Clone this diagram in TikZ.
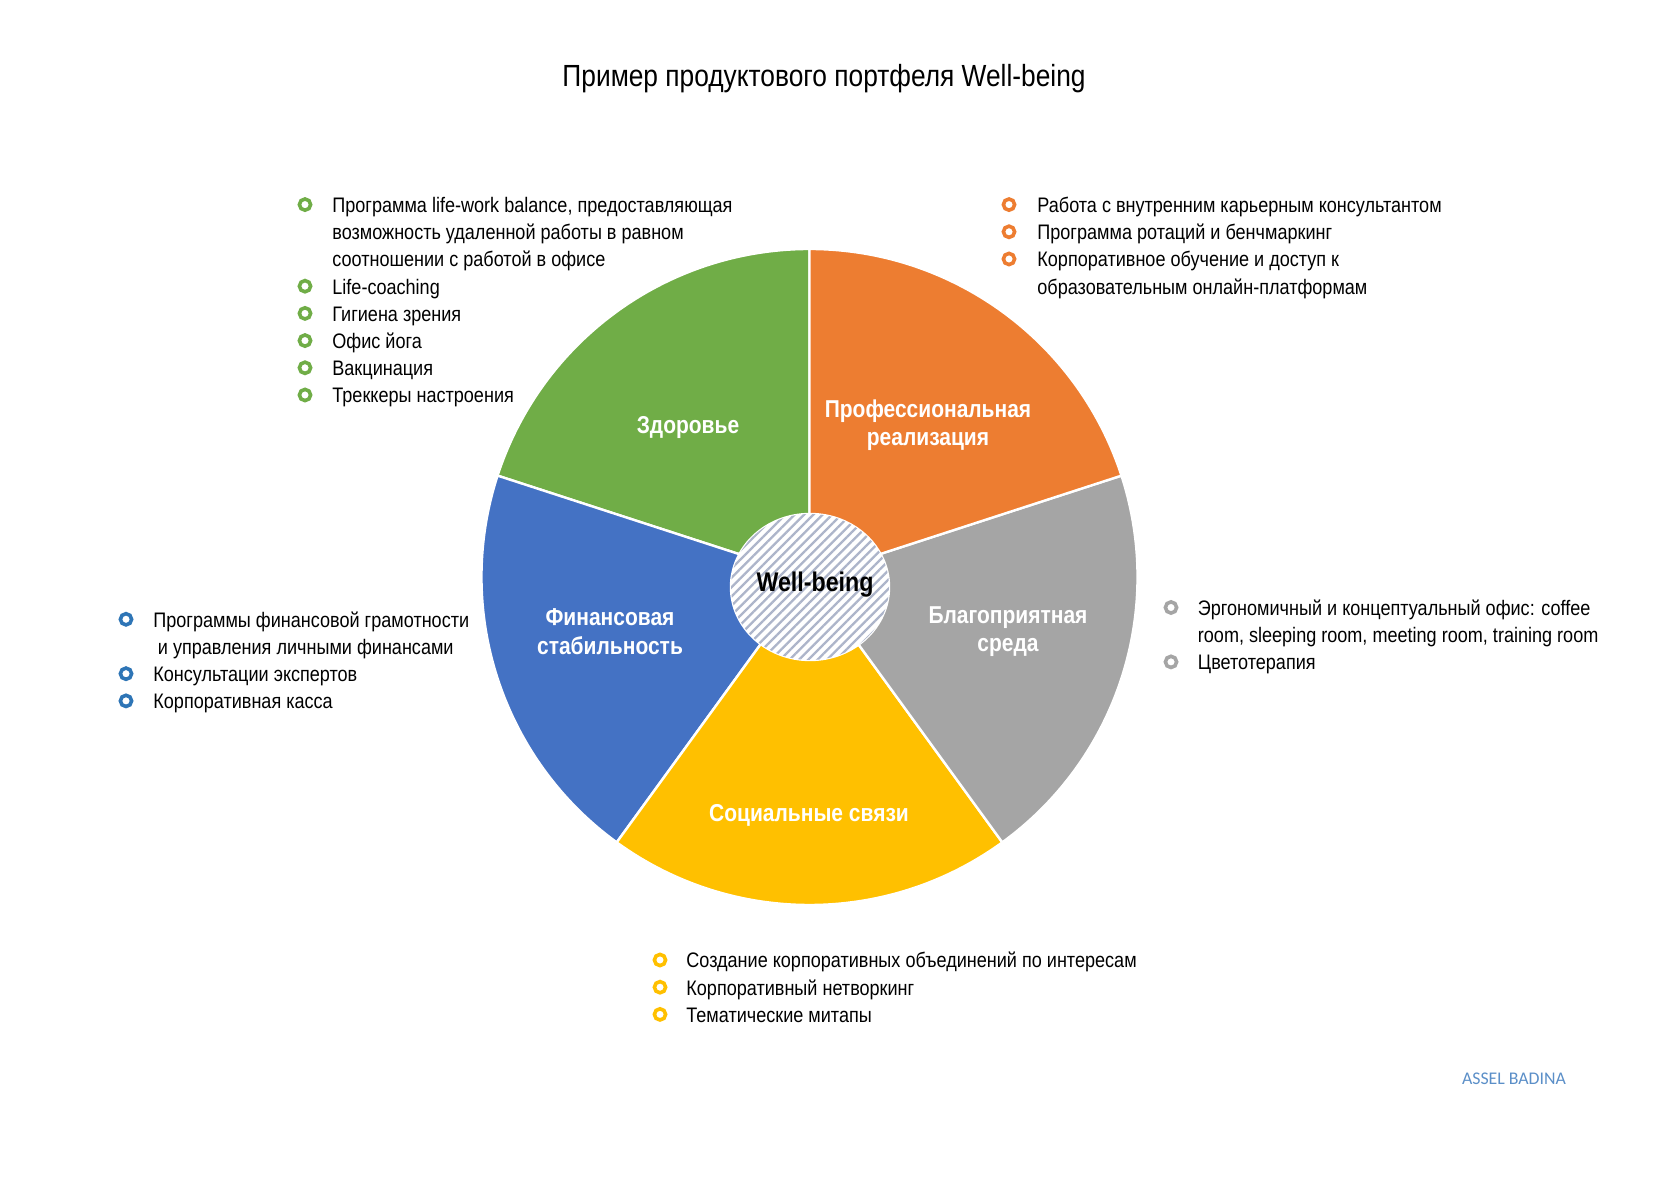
\documentclass[tikz,border=0pt]{standalone}
\usepackage{fontspec}
\setmainfont[FakeStretch=0.86]{Liberation Sans}
\newfontfamily\sigfont{Carlito}
\usetikzlibrary{patterns.meta,shapes.geometric}
\definecolor{cgreen}{HTML}{70AD47}
\definecolor{corange}{HTML}{ED7D31}
\definecolor{cgray}{HTML}{A5A5A5}
\definecolor{cyellow}{HTML}{FFC000}
\definecolor{cblue}{HTML}{4472C4}
\definecolor{cbullblue}{HTML}{2E75B6}
\definecolor{cstripe}{HTML}{ADB5CA}
\definecolor{csig}{HTML}{5B8FC8}
\begin{document}
\begin{tikzpicture}[x=0.5pt,y=0.5pt,
  seg/.style={draw=white,line width=1.2pt,line join=round},
  seglabel/.style={text=white,font=\bfseries\fontsize{12.2}{14.2}\selectfont,align=center},
  bul/.style={circle,draw=#1,line width=1.8pt,minimum size=5.6pt,inner sep=0pt},
  item/.style={anchor=base west,inner sep=0pt,font=\fontsize{10.5}{13.6}\selectfont}]
\useasboundingbox (0,0) rectangle (1680,1188);
\fill[white] (0,0) rectangle (1680,1188);

% title
\node[font=\fontsize{15.3}{18}\selectfont] (title) at (824,1109) {Пример продуктового портфеля Well-being};

% pie
\coordinate (O) at (809.5,611);
\fill[cgreen,seg]  (O) -- ++(90:164pt)  arc[start angle=90,end angle=162,radius=164pt] -- cycle;
\fill[cblue,seg]   (O) -- ++(162:164pt) arc[start angle=162,end angle=234,radius=164pt] -- cycle;
\fill[cyellow,seg] (O) -- ++(234:164pt) arc[start angle=234,end angle=306,radius=164pt] -- cycle;
\fill[cgray,seg]   (O) -- ++(306:164pt) arc[start angle=306,end angle=378,radius=164pt] -- cycle;
\fill[corange,seg] (O) -- ++(18:164pt)  arc[start angle=18,end angle=90,radius=164pt] -- cycle;

% center
\node[ellipse,minimum width=79pt,minimum height=73pt,inner sep=0pt,
      draw=white,line width=1.2pt,fill=white,
      postaction={pattern={Lines[angle=45,distance=3.3pt,line width=1.15pt]},pattern color=cstripe}] (wb) at (810,601) {};
\node[font=\bfseries\fontsize{13.5}{16}\selectfont] (wbt) at (815,603) {Well-being};

% segment labels
\node[seglabel] (lh) at (688,760.5) {Здоровье};
\node[seglabel] (lp) at (928,762.5) {Профессиональная\\реализация};
\node[seglabel] (lb) at (1008,556.5) {Благоприятная\\среда};
\node[seglabel] (lf) at (610,556.5) {Финансовая\\стабильность};
\node[seglabel] (ls) at (809,372.5) {Социальные связи};

% green list
\node[bul=cgreen] (gb1) at (305,983.4) {};
\node[item] (gt1) at (332,975.4) {Программа life-work balance, предоставляющая};
\node[item] (gt1b) at (332,948.2) {возможность удаленной работы в равном};
\node[item] (gt1c) at (332,921) {соотношении с работой в офисе};
\node[bul=cgreen] (gb2) at (305,901.8) {};
\node[item] (gt2) at (332,893.8) {Life-coaching};
\node[bul=cgreen] (gb3) at (305,874.6) {};
\node[item] (gt3) at (332,866.6) {Гигиена зрения};
\node[bul=cgreen] (gb4) at (305,847.4) {};
\node[item] (gt4) at (332,839.4) {Офис йога};
\node[bul=cgreen] (gb5) at (305,820.2) {};
\node[item] (gt5) at (332,812.2) {Вакцинация};
\node[bul=cgreen] (gb6) at (305,793) {};
\node[item] (gt6) at (332,785) {Треккеры настроения};

% orange list
\node[bul=corange] (ob1) at (1009,983.4) {};
\node[item] (ot1) at (1037,975.4) {Работа с внутренним карьерным консультантом};
\node[bul=corange] (ob2) at (1009,956.2) {};
\node[item] (ot2) at (1037,948.2) {Программа ротаций и бенчмаркинг};
\node[bul=corange] (ob3) at (1009,929) {};
\node[item] (ot3) at (1037,921) {Корпоративное обучение и доступ к};
\node[item] (ot3b) at (1037,893.8) {образовательным онлайн-платформам};

% blue list
\node[bul=cbullblue] (bb1) at (126,568.7) {};
\node[item] (bt1) at (153,560.7) {Программы финансовой грамотности};
\node[item] (bt1b) at (157.5,533.5) {и управления личными финансами};
\node[bul=cbullblue] (bb2) at (126,514.3) {};
\node[item] (bt2) at (153,506.3) {Консультации экспертов};
\node[bul=cbullblue] (bb3) at (126,487.1) {};
\node[item] (bt3) at (153,479.1) {Корпоративная касса};

% gray list
\node[bul=cgray] (rb1) at (1171,580.5) {};
\node[item] (rt1) at (1197.5,572.5) {Эргономичный и концептуальный офис: coffee};
\node[item] (rt1b) at (1197.5,545.3) {room, sleeping room, meeting room, training room};
\node[bul=cgray] (rb2) at (1171,526.1) {};
\node[item] (rt2) at (1197.5,518.1) {Цветотерапия};

% yellow list
\node[bul=cyellow] (yb1) at (660,228) {};
\node[item] (yt1) at (686,220) {Создание корпоративных объединений по интересам};
\node[bul=cyellow] (yb2) at (660,200.8) {};
\node[item] (yt2) at (686,192.8) {Корпоративный нетворкинг};
\node[bul=cyellow] (yb3) at (660,173.6) {};
\node[item] (yt3) at (686,165.6) {Тематические митапы};

% signature
\node[text=csig,font=\sigfont\fontsize{8.9}{11}\selectfont] (sig) at (1514,109) {ASSEL BADINA};
\end{tikzpicture}
\end{document}
